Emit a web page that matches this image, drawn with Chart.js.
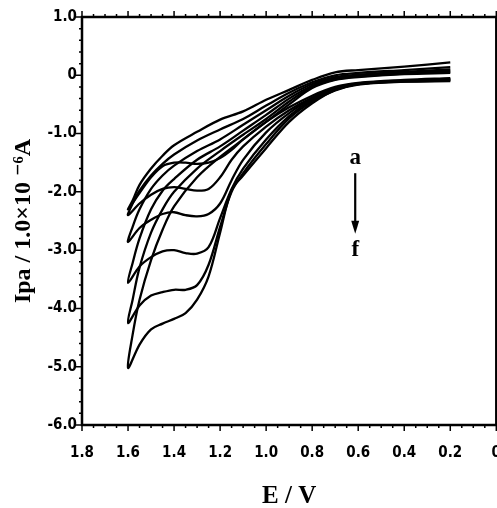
<!DOCTYPE html>
<html>
<head>
<meta charset="utf-8">
<script src="https://cdn.jsdelivr.net/npm/chart.js@4"></script>
<style>
  html, body { margin: 0; padding: 0; overflow: hidden; background: #fff; }
  #wrap { width: 520px; height: 508px; }
</style>
</head>
<body>
<div id="wrap"><canvas id="cv" width="520" height="508"></canvas></div>
<script>
// potential grid (V) for the anodic (forward) and return sweeps
const forwardE = [0.2, 0.4, 0.6, 0.7, 0.8, 0.9, 1.0, 1.1, 1.15, 1.2, 1.25, 1.3, 1.35, 1.4, 1.45, 1.5, 1.55, 1.6];
const reverseE = [1.6, 1.58, 1.55, 1.5, 1.45, 1.4, 1.3, 1.2, 1.1, 1.0, 0.9, 0.8, 0.7, 0.6, 0.4, 0.2];

// current (x1e-6 A), curves a..f
const fwdA = [-0.05, -0.08, -0.13, -0.2, -0.35, -0.55, -0.8, -1.1, -1.28, -1.42, -1.5, -1.52, -1.5, -1.5, -1.56, -1.75, -2.02, -2.3];
const fwdB = [-0.06, -0.09, -0.14, -0.22, -0.38, -0.6, -0.88, -1.22, -1.45, -1.75, -1.95, -1.98, -1.95, -1.92, -1.95, -2.05, -2.2, -2.4];
const fwdC = [-0.07, -0.1, -0.15, -0.24, -0.4, -0.65, -0.98, -1.45, -1.8, -2.2, -2.38, -2.42, -2.4, -2.35, -2.38, -2.48, -2.62, -2.86];
const fwdD = [-0.08, -0.1, -0.15, -0.25, -0.42, -0.7, -1.1, -1.6, -1.95, -2.45, -2.95, -3.06, -3.05, -3.0, -3.02, -3.12, -3.28, -3.56];
const fwdE_ = [-0.09, -0.11, -0.16, -0.26, -0.45, -0.74, -1.18, -1.68, -2.0, -2.6, -3.25, -3.6, -3.68, -3.68, -3.72, -3.78, -3.95, -4.25];
const fwdF = [-0.1, -0.11, -0.15, -0.25, -0.48, -0.8, -1.25, -1.72, -1.97, -2.7, -3.45, -3.85, -4.08, -4.18, -4.26, -4.36, -4.62, -5.02];

const revA = [-2.3, -2.15, -1.88, -1.6, -1.38, -1.2, -0.97, -0.76, -0.62, -0.42, -0.25, -0.08, 0.05, 0.09, 0.15, 0.22];
const revB = [-2.4, -2.2, -1.98, -1.72, -1.52, -1.36, -1.12, -0.93, -0.75, -0.52, -0.3, -0.12, 0.0, 0.04, 0.09, 0.14];
const revC = [-2.86, -2.6, -2.3, -1.95, -1.72, -1.55, -1.3, -1.1, -0.85, -0.6, -0.35, -0.15, -0.03, 0.01, 0.06, 0.1];
const revD = [-3.56, -3.22, -2.8, -2.3, -1.98, -1.78, -1.45, -1.22, -0.95, -0.68, -0.4, -0.18, -0.05, -0.01, 0.04, 0.08];
const revE = [-4.25, -3.85, -3.3, -2.7, -2.3, -2.0, -1.6, -1.3, -1.02, -0.75, -0.45, -0.2, -0.07, -0.02, 0.03, 0.06];
const revF = [-5.02, -4.45, -3.85, -3.17, -2.65, -2.25, -1.75, -1.4, -1.1, -0.8, -0.5, -0.22, -0.08, -0.03, 0.02, 0.04];

const curveNames = ['a', 'b', 'c', 'd', 'e', 'f'];
const forwardSets = [fwdA, fwdB, fwdC, fwdD, fwdE_, fwdF];
const reverseSets = [revA, revB, revC, revD, revE, revF];

// "a -> f" annotation, in data units
const labelE = 0.613;
const labelTopI = -1.42;
const labelBottomI = -3.0;
const arrowFromI = -1.68;
const arrowToI = -2.72;

function loop(fwd, rev) {
    const pts = forwardE.map((e, i) => ({ x: e, y: fwd[i] }));
    reverseE.forEach((e, i) => { if (i > 0) pts.push({ x: e, y: rev[i] }); });
    return pts;
}

const tickFont = { family: "'Liberation Sans Narrow', 'DejaVu Sans Condensed', sans-serif", size: 15, weight: 'bold' };
const titleFamily = "'Liberation Serif', 'DejaVu Serif', serif";

const framePlugin = {
    id: 'frame',
    afterDraw(chart) {
        const { ctx, chartArea: ca } = chart;
        const x = chart.scales.x, y = chart.scales.y;
        ctx.save();
        ctx.strokeStyle = '#000';
        ctx.lineWidth = 2.5;
        ctx.strokeRect(ca.left, ca.top, ca.right - ca.left, ca.bottom - ca.top);

        ctx.lineWidth = 1.5;
        ctx.beginPath();
        for (let i = 0; i <= 36; i++) {
            const px = x.getPixelForValue(i * 0.05);
            const len = i % 4 === 0 ? 6 : 3;
            ctx.moveTo(px, ca.bottom); ctx.lineTo(px, ca.bottom + len);
            ctx.moveTo(px, ca.top); ctx.lineTo(px, ca.top - len);
        }
        for (let i = 0; i <= 35; i++) {
            const py = y.getPixelForValue(-6 + i * 0.2);
            const len = i % 5 === 0 ? 6 : 3;
            ctx.moveTo(ca.left, py); ctx.lineTo(ca.left - len, py);
        }
        ctx.stroke();

        // a -> f arrow
        const ax = x.getPixelForValue(labelE);
        ctx.fillStyle = '#000';
        ctx.font = 'bold 23px ' + titleFamily;
        ctx.textAlign = 'center';
        ctx.textBaseline = 'middle';
        ctx.fillText('a', ax, y.getPixelForValue(labelTopI));
        ctx.fillText('f', ax, y.getPixelForValue(labelBottomI));
        const y0 = y.getPixelForValue(arrowFromI), y1 = y.getPixelForValue(arrowToI);
        ctx.lineWidth = 2.2;
        ctx.beginPath();
        ctx.moveTo(ax, y0); ctx.lineTo(ax, y1 - 8);
        ctx.stroke();
        ctx.beginPath();
        ctx.moveTo(ax - 4, y1 - 13); ctx.lineTo(ax + 4, y1 - 13); ctx.lineTo(ax, y1);
        ctx.closePath();
        ctx.fill();
        ctx.restore();
    }
};

const chart = new Chart(document.getElementById('cv'), {
    type: 'line',
    data: {
        datasets: curveNames.map((n, i) => ({
            label: n,
            data: loop(forwardSets[i], reverseSets[i]),
            borderColor: '#000',
            borderWidth: 2.3,
            pointRadius: 0,
            tension: 0.35,
            fill: false
        }))
    },
    options: {
        responsive: false,
        animation: false,
        layout: { padding: { left: 0, top: 17, right: 21, bottom: 0 } },
        plugins: { legend: { display: false }, tooltip: { enabled: false } },
        scales: {
            x: {
                type: 'linear',
                reverse: true,
                min: 0,
                max: 1.8,
                grid: { display: false, drawTicks: false },
                border: { display: false },
                ticks: {
                    stepSize: 0.2,
                    color: '#000',
                    font: tickFont,
                    padding: 19,
                    maxRotation: 0,
                    callback: v => Math.abs(v) < 1e-9 ? '0' : v.toFixed(1)
                },
                title: {
                    display: true,
                    text: 'E / V',
                    color: '#000',
                    font: { family: titleFamily, size: 25, weight: 'bold' },
                    padding: { top: 0, bottom: -4 }
                },
                afterFit: s => { s.height = 83; }
            },
            y: {
                type: 'linear',
                min: -6,
                max: 1,
                grid: { display: false, drawTicks: false },
                border: { display: false },
                ticks: {
                    stepSize: 1,
                    color: '#000',
                    font: tickFont,
                    padding: 5,
                    callback: v => Math.abs(v) < 1e-9 ? '0' : v.toFixed(1)
                },
                title: {
                    display: true,
                    text: 'Ipa / 1.0×10 ⁻⁶A',
                    color: '#000',
                    font: { family: titleFamily, size: 24, weight: 'bold' },
                    padding: { top: 9, bottom: 0 }
                },
                afterFit: s => { s.width = 82; }
            }
        }
    },
    plugins: [framePlugin]
});
</script>
</body>
</html>
